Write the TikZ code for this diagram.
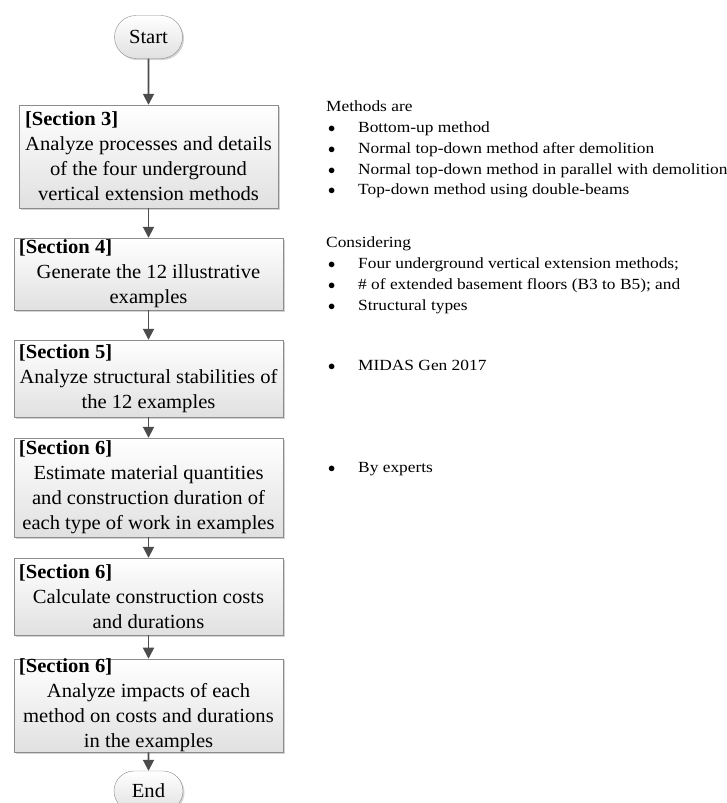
\documentclass[tikz,border=0pt]{standalone}
\usepackage{fontspec}
\setmainfont[FakeStretch=1.03]{Liberation Serif}
\newfontfamily\notefont[FakeStretch=1.12]{Liberation Serif}
\usetikzlibrary{arrows.meta,shapes.misc,shadows}
\definecolor{arrowgray}{gray}{0.30}
\definecolor{edgegray}{gray}{0.55}
\definecolor{fillgray}{gray}{0.88}
\newcommand{\sechead}[2][259pt]{\makebox[#1][l]{\textbf{[Section #2]}}}
\newcommand{\bitem}[1]{\makebox[32pt][l]{\hspace{2pt}$\bullet$}#1}

\begin{document}
\begin{tikzpicture}[x=1pt,y=-1pt,
    stepbox/.style={draw=edgegray,top color=white,bottom color=fillgray,
      drop shadow={shadow xshift=1.5pt,shadow yshift=-1.5pt,opacity=0.35},
      align=center,inner sep=0pt,minimum width=269pt,
      font=\fontsize{20}{25}\selectfont},
    term/.style={rounded rectangle,draw=edgegray,top color=white,bottom color=fillgray,
      drop shadow={shadow xshift=1.5pt,shadow yshift=-1.5pt,opacity=0.35},
      minimum width=68pt,minimum height=43pt,inner sep=0pt,
      font=\fontsize{20}{25}\selectfont},
    arr/.style={-{Triangle[length=11pt,width=11pt]},line width=1.8pt,draw=arrowgray},
    note/.style={align=left,inner sep=0pt,font=\notefont\fontsize{15.5}{20.7}\selectfont}]
  \useasboundingbox (0,0) rectangle (727,803);
  \clip (0,0) rectangle (727,803);

  % flow
  \node[term] (start) at (148.5,37) {Start};
  \node[stepbox,minimum width=259pt,minimum height=103pt] (sec3) at (148.5,156.5)
        {\sechead[247pt]{3}\\Analyze processes and details\\of the four underground\\vertical extension methods};
  \node[stepbox,minimum height=72pt] (sec4) at (148.5,274)
        {\sechead{4}\\Generate the 12 illustrative\\examples};
  \node[stepbox,minimum height=77pt] (sec5) at (148.5,378.5)
        {\sechead{5}\\Analyze structural stabilities of\\the 12 examples};
  \node[stepbox,minimum height=99pt] (sec6a) at (148.5,487.5)
        {\sechead{6}\\Estimate material quantities\\and construction duration of\\each type of work in examples};
  \node[stepbox,minimum height=77pt] (sec6b) at (148.5,596.5)
        {\sechead{6}\\Calculate construction costs\\and durations};
  \node[stepbox,minimum height=93pt] (sec6c) at (148.5,705.5)
        {\sechead{6}\\Analyze impacts of each\\method on costs and durations\\in the examples};
  \node[term,minimum width=69pt,minimum height=40pt] (stop) at (148.5,791) {End};

  \draw[arr] (start) -- (sec3);
  \draw[arr] (sec3) -- (sec4);
  \draw[arr] (sec4) -- (sec5);
  \draw[arr] (sec5) -- (sec6a);
  \draw[arr] (sec6a) -- (sec6b);
  \draw[arr] (sec6b) -- (sec6c);
  \draw[arr] (sec6c) -- (stop);

  % notes
  \node[note,anchor=north west] (methods) at (326,101)
        {Methods are\\
         \bitem{Bottom-up method}\\
         \bitem{Normal top-down method after demolition}\\
         \bitem{Normal top-down method in parallel with demolition}\\
         \bitem{Top-down method using double-beams}};
  \node[note,anchor=north west] (considering) at (326,237)
        {Considering\\
         \bitem{Four underground vertical extension methods;}\\
         \bitem{\# of extended basement floors (B3 to B5); and}\\
         \bitem{Structural types}};
  \node[note,anchor=base west] (midas) at (326,370) {\bitem{MIDAS Gen 2017}};
  \node[note,anchor=base west] (experts) at (326,472) {\bitem{By experts}};
\end{tikzpicture}
\end{document}
